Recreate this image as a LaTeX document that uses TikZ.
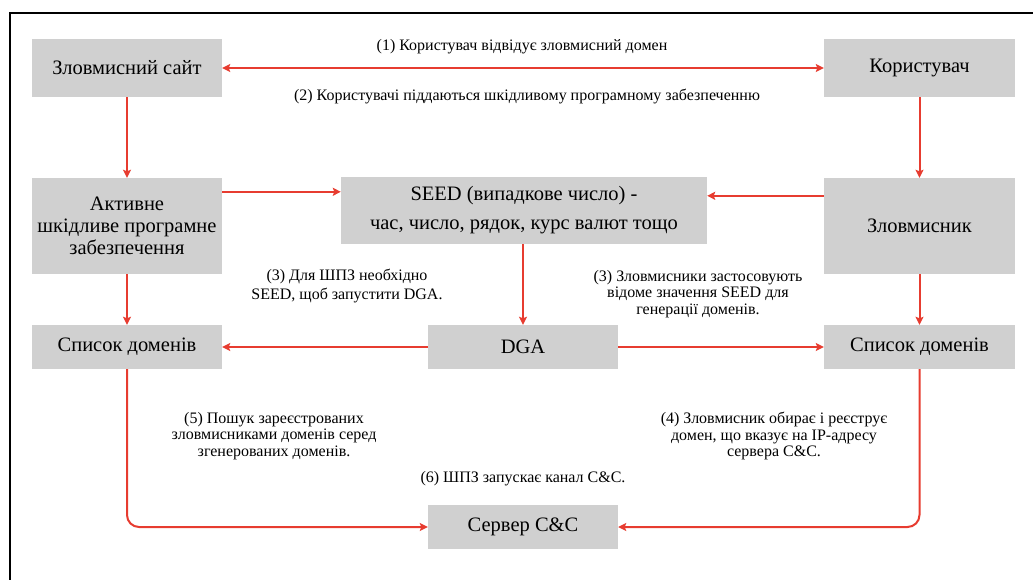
\documentclass[tikz,border=0pt]{standalone}
\usepackage{fontspec}
\setmainfont{Liberation Serif}
\usetikzlibrary{arrows.meta}
\definecolor{flowred}{RGB}{231,60,48}
\definecolor{boxgray}{RGB}{208,208,208}
\tikzset{
  box/.style={fill=boxgray, draw=none, align=center, inner sep=0pt,
    font=\fontsize{20.5}{22}\selectfont},
  note/.style={align=center, inner sep=0pt, font=\fontsize{16}{16.5}\selectfont},
  flow/.style={draw=flowred, line width=2pt,
    -{Stealth[length=8pt,width=8pt,inset=1.5pt]}},
  flowboth/.style={flow, {Stealth[length=8pt,width=8pt,inset=1.5pt]}-{Stealth[length=8pt,width=8pt,inset=1.5pt]}}
}
\begin{document}
\begin{tikzpicture}[x=1pt,y=-1pt]
\useasboundingbox (0,0) rectangle (1033,580);
% outer frame (open at right and bottom)
\draw[line width=2pt] (10,580) -- (10,13) -- (1033,13);

% boxes
\node[box, minimum width=190pt, minimum height=58pt] (site) at (127,68) {Зловмисний сайт};
\node[box, minimum width=191pt, minimum height=58pt] (user) at (919.5,68) {Користувач};
\node[box, minimum width=190pt, minimum height=96pt] (akt) at (127,226) {Активне\\шкідливе програмне\\забезпечення};
\node[box, minimum width=366pt, minimum height=67pt, font=\fontsize{20.5}{29}\selectfont] (seed) at (524,210.5) {SEED (випадкове число) -\\час, число, рядок, курс валют тощо};
\node[box, minimum width=191pt, minimum height=96pt] (att) at (919.5,226) {Зловмисник};
\node[box, minimum width=190pt, minimum height=44pt] (listL) at (127,347) {Список доменів};
\node[box, minimum width=190pt, minimum height=44pt] (dga) at (523,347) {DGA};
\node[box, minimum width=191pt, minimum height=44pt] (listR) at (919.5,347) {Список доменів};
\node[box, minimum width=190pt, minimum height=44pt] (cc) at (523,527) {Сервер C\&C};

% notes
\node[note] (n1) at (522,47) {(1) Користувач відвідує зловмисний домен};
\node[note] (n2) at (527,97) {(2) Користувачі піддаються шкідливому програмному забезпеченню};
\node[note, font=\fontsize{16}{19}\selectfont] (n3a) at (347,286) {(3) Для ШПЗ необхідно\\SEED, щоб запустити DGA.};
\node[note] (n3b) at (698,294) {(3) Зловмисники застосовують\\відоме значення SEED для\\генерації доменів.};
\node[note] (n5) at (274,436) {(5) Пошук зареєстрованих\\зловмисниками доменів серед\\згенерованих доменів.};
\node[note] (n4) at (774,436) {(4) Зловмисник обирає і реєструє\\домен, що вказує на IP-адресу\\сервера C\&C.};
\node[note] (n6) at (523,479) {(6) ШПЗ запускає канал C\&C.};

% connectors
\draw[flowboth] (site.east) -- (user.west);
\draw[flow] (site.south) -- (akt.north);
\draw[flow] (user.south) -- (att.north);
\draw[flow] ([yshift=-14pt]akt.north east) -- ([yshift=-15pt]seed.north west);
\draw[flow] ([yshift=-18pt]att.north west) -- ([yshift=-19pt]seed.north east);
\draw[flow] (dga.north |- seed.south) -- (dga.north);
\draw[flow] (akt.south) -- (listL.north);
\draw[flow] (att.south) -- (listR.north);
\draw[flow] (dga.west) -- (listL.east);
\draw[flow] (dga.east) -- (listR.west);
\draw[flow, rounded corners=12pt] (listL.south) |- (cc.west);
\draw[flow, rounded corners=12pt] (listR.south) |- (cc.east);
\end{tikzpicture}
\end{document}
